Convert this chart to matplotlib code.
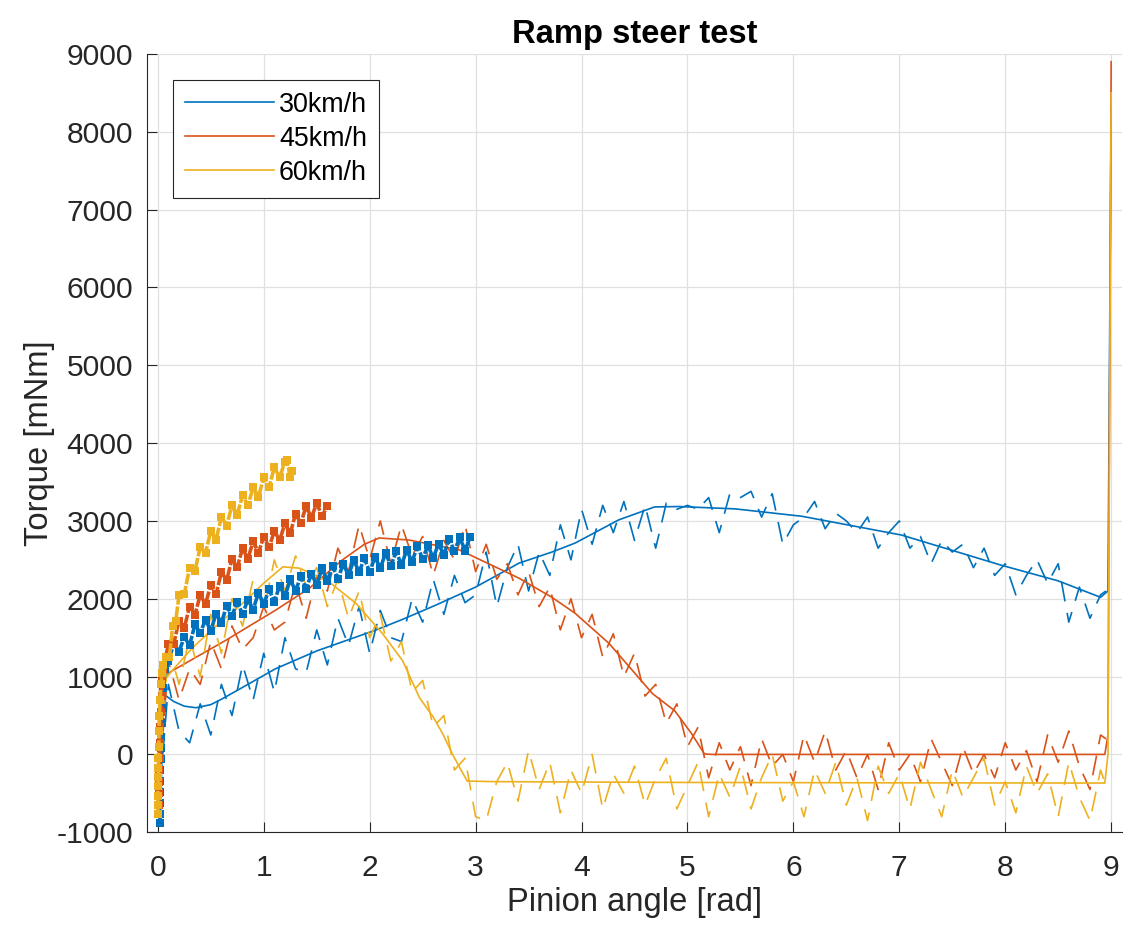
import numpy as np
import matplotlib
matplotlib.use('Agg')
import matplotlib.pyplot as plt

plt.rcParams['font.family'] = ['Liberation Sans', 'DejaVu Sans']
plt.rcParams['axes.unicode_minus'] = False

labels = ['30km/h', '45km/h', '60km/h']
colors = ['#0072BD', '#D95319', '#EDB120']

# smooth (filtered) curves
blue_sx = [0.0, 0.01, 0.03, 0.07, 0.15, 0.25, 0.36, 0.5, 0.61, 0.85, 1.11, 1.5, 2.05, 2.31,
           2.62, 3.0, 3.41, 3.72, 3.94, 4.35, 4.69, 4.92, 5.45, 6.08, 7.02, 7.96, 8.5, 8.9,
           8.97, 9.0]
blue_sy = [-800, 200, 700, 760, 680, 620, 600, 640, 716, 900, 1100, 1330, 1594, 1735,
           1916, 2150, 2458, 2600, 2716, 3013, 3180, 3185, 3155, 3060, 2819, 2432, 2230, 2019,
           2100, 8300]

orange_sx = [0.0, 0.01, 0.03, 0.09, 0.64, 1.11, 1.43, 1.74, 1.95, 2.09, 2.37, 2.85, 3.25,
             3.41, 3.72, 3.94, 4.26, 4.67, 4.88, 5.04, 5.16, 5.23, 8.94, 8.97, 9.0]
orange_sy = [-600, 300, 900, 1039, 1465, 1852, 2135, 2497, 2700, 2781, 2755, 2626, 2368,
             2264, 2019, 1813, 1426, 781, 561, 265, 6, 0, 0, 250, 8900]

yellow_sx = [0.0, 0.02, 0.06, 0.15, 0.33, 0.55, 0.8, 1.0, 1.18, 1.34, 1.62, 1.87, 2.12,
             2.31, 2.47, 2.6, 2.69, 2.78, 2.92, 3.2, 5.0, 7.0, 8.94, 8.97, 9.0]
yellow_sy = [-700, 500, 950, 1100, 1374, 1650, 1942, 2200, 2410, 2393, 2213, 1942, 1555,
             1206, 729, 480, 265, 6, -342, -350, -360, -365, -368, 0, 8500]

# raw (noisy) curves, sampled every 0.1 rad
raw_x = [round(0.1 * i, 1) for i in range(90)] + [8.95]
blue_ry = [-800, 900, 300, 150, 650, 250, 900, 500, 1150, 700,
           1300, 800, 1500, 1100, 1050, 1600, 1150, 1750, 1400, 1900,
           1300, 1850, 1500, 1450, 2000, 1700, 2250, 1800, 2300, 1950,
           2050, 2600, 1900, 2400, 2700, 2100, 2600, 2300, 2950, 2500,
           3150, 2700, 3200, 2850, 3250, 2750, 3200, 2650, 3230, 3150,
           3200, 3150, 3300, 2850, 3350, 3300, 3380, 3050, 3350, 2700,
           2950, 3050, 3250, 2900, 3100, 3000, 2850, 3050, 2650, 2850,
           3000, 2650, 2800, 2450, 2750, 2600, 2700, 2400, 2650, 2300,
           2450, 2050, 2300, 2500, 2200, 2450, 1700, 2150, 1750, 2050, 2100]
orange_ry = [-600, 1200, 700, 1100, 900, 1450, 1100, 1650, 1350, 1500,
             1900, 1600, 1700, 2200, 1750, 2300, 2100, 2650, 2350, 2950,
             2500, 3000, 2450, 2950, 2550, 2800, 2300, 2750, 2500, 2950,
             2350, 2700, 2250, 2450, 2050, 2350, 1900, 2150, 1600, 2000,
             1500, 1800, 1250, 1550, 1000, 1300, 750, 900, 400, 650,
             100, 350, -300, 150, -200, 100, -400, 200, -150, 0,
             -350, 250, -100, 300, -200, 50, -300, 0, -450, 150,
             -200, 0, -350, 200, -100, -400, 100, -250, 0, -300,
             150, -200, 50, -350, 250, -100, 300, -150, -450, 250, 200]
yellow_ry = [-700, 1400, 900, 1500, 1000, 1800, 1300, 2000, 1650, 2250,
             1850, 2500, 2100, 2550, 2150, 2400, 1900, 2250, 1750, 2100,
             1500, 1800, 1200, 1450, 800, 950, 350, 500, -200, -50,
             -800, -850, -350, -100, -600, 50, -450, -100, -750, -200,
             -500, 0, -700, -250, -500, -150, -650, -300, -50, -700,
             -400, -100, -800, -250, -550, -150, -700, -300, 0, -600,
             -350, -800, -200, -500, -100, -650, -300, -850, -150, -500,
             -250, -700, -100, -450, -800, -200, -550, -300, -50, -650,
             -350, -750, -150, -500, -250, -800, -100, -550, -850, -200, -400]

# measured samples (thick markers) at the start of the ramp
blue_mx = [0.02, 0.02, 0.02, 0.025, 0.025, 0.025, 0.03, 0.03, 0.03, 0.035, 0.04, 0.05, 0.07,
           0.10, 0.15, 0.20, 0.25, 0.30, 0.35, 0.40, 0.45, 0.50, 0.55, 0.60, 0.65, 0.70,
           0.75, 0.80, 0.85, 0.90, 0.95, 1.00, 1.05, 1.10, 1.15, 1.20, 1.25, 1.30, 1.35,
           1.40, 1.45, 1.50, 1.55, 1.60, 1.65, 1.70, 1.75, 1.80, 1.85, 1.90, 1.95, 2.00,
           2.05, 2.10, 2.15, 2.20, 2.25, 2.30, 2.35, 2.40, 2.45, 2.50, 2.55, 2.60, 2.65,
           2.70, 2.75, 2.80, 2.85, 2.90, 2.95]
blue_my = [-880, -760, -620, -480, -340, -200, -60, 80, 220, 400, 600, 850, 1100,
           1200, 1420, 1320, 1510, 1400, 1670, 1560, 1730, 1590, 1810, 1690, 1910, 1780,
           1960, 1800, 1990, 1860, 2080, 1930, 2120, 1960, 2170, 2030, 2250, 2100, 2290,
           2130, 2320, 2180, 2390, 2230, 2420, 2250, 2450, 2300, 2500, 2340, 2520, 2340,
           2540, 2390, 2590, 2420, 2610, 2430, 2630, 2470, 2680, 2510, 2690, 2520, 2710,
           2560, 2770, 2610, 2790, 2620, 2800]
orange_mx = [0.01, 0.01, 0.015, 0.015, 0.02, 0.02, 0.025, 0.03, 0.035, 0.04,
             0.05, 0.10, 0.15, 0.20, 0.25, 0.30, 0.35, 0.40, 0.45, 0.50, 0.55, 0.60,
             0.65, 0.70, 0.75, 0.80, 0.85, 0.90, 0.95, 1.00, 1.05, 1.10, 1.15, 1.20,
             1.25, 1.30, 1.35, 1.40, 1.45, 1.50, 1.55, 1.60]
orange_my = [-650, -500, -350, -200, -50, 150, 350, 550, 750, 950,
             1100, 1420, 1420, 1720, 1630, 1900, 1790, 2050, 1930, 2180, 2060, 2340,
             2240, 2510, 2410, 2650, 2510, 2740, 2590, 2800, 2660, 2870, 2750, 2970,
             2840, 3090, 2970, 3190, 3040, 3230, 3060, 3190]
yellow_mx = [0.0, 0.0, 0.0, 0.0, 0.005, 0.005, 0.005, 0.01, 0.01, 0.015, 0.02, 0.03,
             0.04, 0.05, 0.08, 0.11, 0.14, 0.17, 0.20, 0.25, 0.30, 0.35, 0.40, 0.45,
             0.50, 0.55, 0.60, 0.65, 0.70, 0.75, 0.80, 0.85, 0.90, 0.95, 1.00, 1.05,
             1.10, 1.15, 1.20, 1.22, 1.25, 1.27]
yellow_my = [-770, -650, -530, -410, -290, -170, -50, 100, 300, 500, 700, 900,
             1050, 1150, 1250, 1250, 1650, 1720, 2050, 2060, 2400, 2360, 2660, 2590,
             2870, 2760, 3050, 2940, 3200, 3080, 3330, 3200, 3430, 3310, 3560, 3430,
             3690, 3560, 3760, 3780, 3560, 3640]

smooth = [(blue_sx, blue_sy), (orange_sx, orange_sy), (yellow_sx, yellow_sy)]
raw = [blue_ry, orange_ry, yellow_ry]
measured = [(blue_mx, blue_my), (orange_mx, orange_my), (yellow_mx, yellow_my)]

fig = plt.figure(figsize=(11.24, 9.27), dpi=100)
ax = fig.add_axes([0.131, 0.1022, 0.867, 0.8396])

handles = []
for i in range(3):
    ax.plot(raw_x, raw[i], color=colors[i], lw=1.2, dashes=(12, 7))
    h, = ax.plot(smooth[i][0], smooth[i][1], color=colors[i], lw=1.2, label=labels[i])
    handles.append(h)
for i in range(3):
    ax.plot(measured[i][0], measured[i][1], color=colors[i], lw=2.6, dashes=(3, 0.5),
            marker='s', ms=6, mew=0)

ax.set_xlim(-0.1, 9.1)
ax.set_ylim(-1000, 9000)
ax.set_xticks(np.arange(0, 10, 1))
ax.set_yticks(np.arange(-1000, 10000, 1000))
ax.grid(True, color='#e0e0e0', lw=0.9)
ax.set_axisbelow(True)
for s in ['top', 'right']:
    ax.spines[s].set_visible(False)
for s in ['left', 'bottom']:
    ax.spines[s].set_color('#262626')
    ax.spines[s].set_linewidth(0.8)
ax.tick_params(axis='both', direction='in', length=7, width=0.8, colors='#262626',
               labelsize=21.6)
ax.tick_params(axis='x', pad=15.5)
ax.tick_params(axis='y', pad=10)

ax.set_xlabel('Pinion angle [rad]', fontsize=23.6, color='#262626', labelpad=4)
ax.set_ylabel('Torque [mNm]', fontsize=23.6, color='#262626', labelpad=1)
ax.set_title('Ramp steer test', fontsize=23.6, fontweight='bold', pad=8)

leg = ax.legend(handles=handles, loc='upper left', bbox_to_anchor=(0.026, 0.967),
                fontsize=19.4, handlelength=3.3, fancybox=False, framealpha=1,
                edgecolor='#262626', borderaxespad=0, labelspacing=0.3,
                handletextpad=0.2, borderpad=0.45)
leg.get_frame().set_linewidth(0.8)

fig.savefig('out.png', dpi=100)
